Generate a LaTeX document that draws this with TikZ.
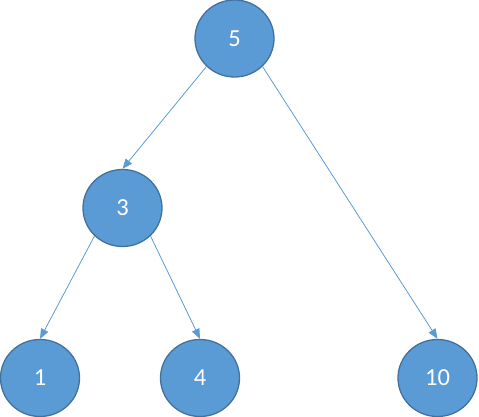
\documentclass[tikz,border=0pt]{standalone}
\usepackage{fontspec}
\setmainfont{Carlito}
\usetikzlibrary{arrows.meta,shapes.geometric}
\definecolor{nodefill}{HTML}{5B9BD5}
\definecolor{nodeedge}{HTML}{41719C}
\begin{document}
\begin{tikzpicture}[x=1pt, y=-1pt,
    treenode/.style={ellipse, fill=nodefill, draw=nodeedge, line width=1.3pt,
        minimum width=79pt, minimum height=77pt, inner sep=0pt,
        text=white, font=\fontsize{24.5}{28}\selectfont},
    edge/.style={nodefill, line width=0.8pt, -{Triangle[length=10pt,width=8pt]}}]
            \useasboundingbox (0,0) rectangle (479,417);

            \node[treenode] (n5) at (234.5,38.5) {5};
            \node[treenode] (n3) at (122.5,208) {3};
            \node[treenode] (n1) at (40,378) {1};
            \node[treenode] (n4) at (200,378) {4};
            \node[treenode] (n10) at (437.5,378) {10};

            \draw[edge] (n5.225) -- (n3.north);
            \draw[edge] (n5.-45) -- (n10.north);
            \draw[edge] (n3.225) -- (n1.north);
            \draw[edge] (n3.-45) -- (n4.north);
        \end{tikzpicture}
\end{document}
